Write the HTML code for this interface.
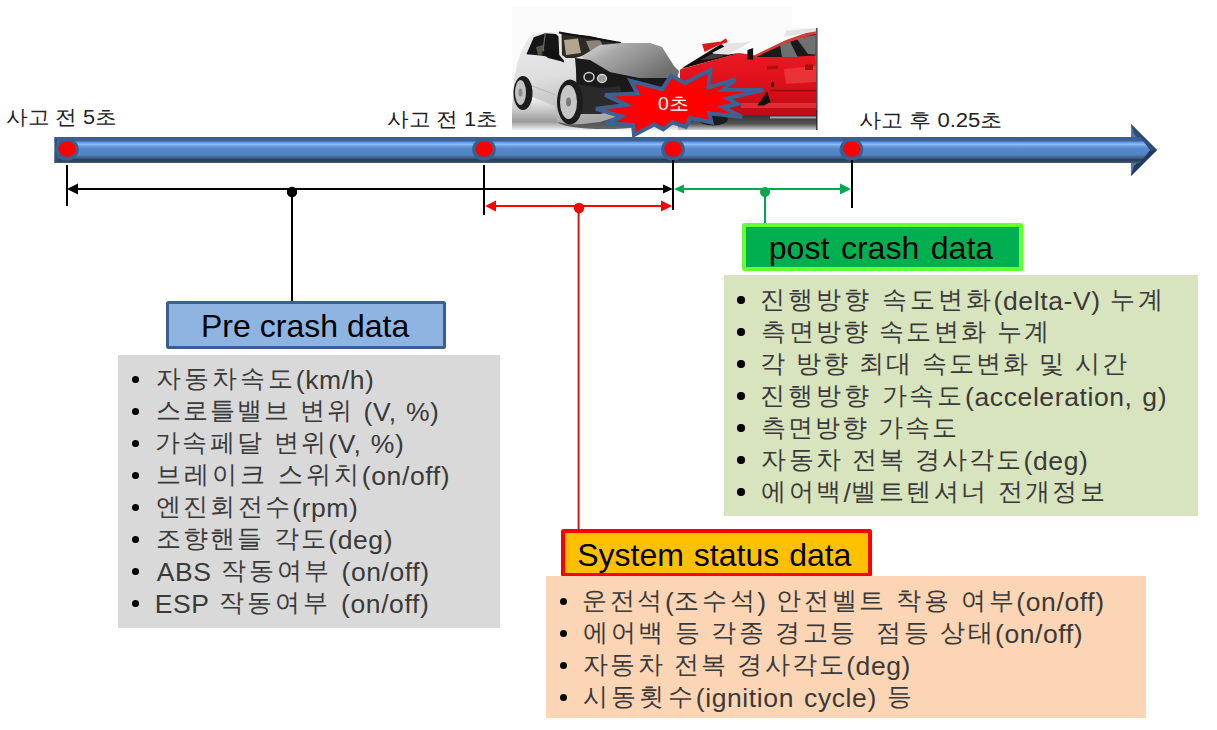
<!DOCTYPE html>
<html><head><meta charset="utf-8">
<style>
html,body{margin:0;padding:0;width:1217px;height:730px;overflow:hidden;background:#fff;font-family:"Liberation Sans",sans-serif;}
.t{position:absolute;white-space:nowrap;line-height:1;transform-origin:0 0;color:#000}
.bx{position:absolute;box-sizing:border-box}
.lab{font-size:18px}
.li{font-size:24px}
.t[id^="g"],.t[id^="n"],.t[id^="p"]{color:#3a3a3a}
.t[id^="l"]{color:#222}
.la{position:relative;top:2.4px;font-size:26.5px;line-height:20px;letter-spacing:0.6px}
.bul{position:absolute;width:7.5px;height:7.5px;border-radius:50%;background:#000}
</style></head><body>
<svg width="1217" height="730" style="position:absolute;left:0;top:0">
<defs>
<linearGradient id="bar" x1="0" y1="0" x2="0" y2="1">
<stop offset="0" stop-color="#3a5f94"/>
<stop offset="0.14" stop-color="#3b6197"/>
<stop offset="0.2" stop-color="#5f95d8"/>
<stop offset="0.28" stop-color="#8dbef5"/>
<stop offset="0.36" stop-color="#6a9de0"/>
<stop offset="0.45" stop-color="#5589cb"/>
<stop offset="0.68" stop-color="#5184c2"/>
<stop offset="0.8" stop-color="#3f5f8a"/>
<stop offset="0.87" stop-color="#2c3e5a"/>
<stop offset="0.93" stop-color="#30445f"/>
<stop offset="1" stop-color="#3f5f85"/>
</linearGradient>
<linearGradient id="gnd1" x1="0" y1="0" x2="0" y2="1">
<stop offset="0" stop-color="#f8f8f8"/>
<stop offset="0.45" stop-color="#c4c4c4"/>
<stop offset="0.75" stop-color="#9a9a9a"/>
<stop offset="1" stop-color="#efefef"/>
</linearGradient>
<linearGradient id="redg" x1="0" y1="0" x2="0" y2="1">
<stop offset="0" stop-color="#f0202a"/>
<stop offset="0.5" stop-color="#e3121c"/>
<stop offset="1" stop-color="#b80c14"/>
</linearGradient>
<linearGradient id="gnd2" x1="0" y1="0" x2="0" y2="1">
<stop offset="0" stop-color="#2a2a2a"/>
<stop offset="0.35" stop-color="#3a3a3a"/>
<stop offset="0.7" stop-color="#555"/>
<stop offset="1" stop-color="#cfcfcf"/>
</linearGradient>
<linearGradient id="silv" x1="0" y1="0" x2="0.3" y2="1">
<stop offset="0" stop-color="#ececec"/>
<stop offset="0.5" stop-color="#dedede"/>
<stop offset="0.8" stop-color="#c4c4c4"/>
<stop offset="1" stop-color="#a8a8a8"/>
</linearGradient>
<linearGradient id="hood" x1="0" y1="0" x2="1" y2="0.6">
<stop offset="0" stop-color="#e0e0e0"/>
<stop offset="0.35" stop-color="#a8a8a8"/>
<stop offset="0.7" stop-color="#8a8a8a"/>
<stop offset="1" stop-color="#6e6e6e"/>
</linearGradient>
</defs>
<!-- car photo -->
<rect x="512" y="7" width="280" height="123" fill="#fbfbfb"/>
<rect x="792" y="28" width="25" height="102" fill="#f6f6f6"/>
<rect x="512" y="96" width="170" height="34" fill="url(#gnd1)"/>
<ellipse cx="605" cy="121" rx="48" ry="8" fill="#3a3a3a" opacity="0.75"/>
<rect x="678" y="110" width="139" height="20" fill="url(#gnd2)"/>
<!-- silver car -->
<polygon points="513,100 514,80 517,64 521,52 529,37 537,33 547,32 559,32.4 590,36 621,43 650,43 662,47 674,66 679,71 678,83 674,91 650,95 625,114 600,122 583,124 570,124.5 557,122 555,106 532,97 530,108 522,110 514,106" fill="url(#silv)"/>
<polygon points="526.4,54.2 533.8,37.3 545.3,33.2 556,34 558.5,36.5 559.3,55.4 563.4,59.5 564.2,62.8 556,57.9 540.4,55.4" fill="#161616"/>
<polygon points="536,47 543,45 545,54 538,55" fill="#5a544c"/>
<line x1="545.3" y1="33.2" x2="542.9" y2="52" stroke="#6a6a6a" stroke-width="1.2"/>
<polygon points="541,52 552,49.5 560,56 564,62 548,58" fill="#111"/>
<polygon points="561.5,33 590,36 621,43 605,47 592,52 582,56 575,58 566,58 562,55" fill="#2e2a26"/>
<polygon points="564,40 578,38.5 581,53 566,55" fill="#b3a58e"/>
<polygon points="586,41 600,40 604,48 590,51" fill="#8c8378"/>
<line x1="559" y1="32.6" x2="621" y2="43" stroke="#111" stroke-width="2"/>
<polygon points="582,56 600,45 621,43 650,43 662,47 674,66 679,71 677,78 640,78 610,72 595,66 585,62" fill="url(#hood)"/>
<polygon points="575,58 590,60 610,72 640,78 677,78 679,83 674,91 650,95 625,106 600,112 577,114 576,70" fill="#1a1a1a"/>
<polygon points="577,84 600,88 620,86 624,108 600,114 580,114" fill="#2a2a2a"/>
<ellipse cx="589" cy="77" rx="5" ry="4.5" fill="#222" stroke="#cfcfcf" stroke-width="1.5"/>
<ellipse cx="602" cy="78.5" rx="4.5" ry="4" fill="#9a9a9a" stroke="#d8d8d8" stroke-width="1.3"/>
<line x1="527" y1="84" x2="556" y2="95" stroke="#b8b8b8" stroke-width="1"/>
<ellipse cx="523" cy="93" rx="9.5" ry="17" fill="#1c1c1c"/>
<ellipse cx="520.5" cy="92.5" rx="5.5" ry="12.5" fill="#c2c2c2"/>
<ellipse cx="520.5" cy="92.5" rx="2" ry="4" fill="#8a8a8a"/>
<ellipse cx="570" cy="102" rx="13" ry="22.5" fill="#1c1c1c"/>
<ellipse cx="568.5" cy="102" rx="8.5" ry="17" fill="#c6c6c6"/>
<ellipse cx="568.5" cy="102" rx="2.5" ry="4.5" fill="#7a7a7a"/>
<!-- red car -->
<polygon points="680,69.4 739,53 755,55.4 786,43 815.7,31.5 816.4,115.3 741,115.3 725,119 698,118 680,106" fill="url(#redg)"/>
<polygon points="754,55.4 786,40 815.7,29.5 815.7,33.5 786,44 756,58" fill="#d83a3a"/>
<polygon points="784.4,36.4 786,30.7 815.7,28.2 815.7,31.5" fill="#e2e2e2"/>
<polygon points="756.4,57 786,43 815.7,34 815.7,55.4 786,57" fill="#1a1a1a"/>
<polygon points="780,44.7 790,41.5 797.6,57 782,57" fill="#6e6e6e"/>
<polygon points="797,39 815.7,34.8 815.7,54.5 808,54" fill="#707070"/>
<polygon points="681,69 721,45.5 713.6,53.8 728.5,54.6 739.5,53" fill="#240606"/>
<polygon points="700,60 716,52 724,56 712,59" fill="#4a3a3a"/>
<polygon points="711.2,52.1 721,43.9 745.7,42.3 752.3,41 728.5,54.6 713.6,53.8" fill="#e4e4e4"/>
<polygon points="682.4,67.8 721,43.9 724.3,46.4 685.7,67" fill="#111"/>
<polygon points="702.1,43.9 721,41.4 726,38.2 727.6,42.3 719.4,44.7 704.6,52.1" fill="#d81a1a"/>
<polygon points="747.4,50 753.1,48 753.1,59.5 747.4,59.5" fill="#111"/>
<polygon points="784,69 816,66 816,82 786,84" fill="#f04a4a" opacity="0.6"/>
<polygon points="767,66 778,65.5 778,69 767,69.5" fill="#b01010"/>
<polygon points="805,64.5 813,64.5 813,70 805,70" fill="#a80e0e"/>
<rect x="770" y="89.8" width="46" height="1.5" fill="#9a0c0c"/>
<rect x="741" y="103" width="75" height="5" fill="#f44848" opacity="0.55"/>
<polygon points="757.3,105.4 767.1,91.4 770.4,102.1 763.8,105.4" fill="#111"/>
<polygon points="771,83 773.7,82 773.7,87 771,87" fill="#111"/>
<rect x="770" y="116.5" width="46" height="2" fill="#d0d0d0" opacity="0.7"/>
<ellipse cx="713" cy="119" rx="15" ry="6.5" fill="#1c1c1c"/>
<rect x="816.2" y="28" width="1.3" height="102" fill="#2a2a2a"/>
<!-- explosion -->
<path d="M684.6,83.1 L710.3,70.0 L708.3,87.4 L735.2,79.5 L722.6,89.7 L763.0,90.0 L727.3,98.3 L737.3,104.0 L722.6,107.0 L741.9,117.0 L709.2,113.2 L711.5,122.3 L690.2,118.0 L685.8,126.7 L672.3,122.3 L663.3,129.3 L654.2,124.5 L634.0,135.0 L633.1,124.9 L605.9,123.6 L621.7,116.3 L596.0,108.8 L626.4,104.9 L605.1,94.9 L637.5,93.5 L630.8,80.9 L662.1,89.2 L671.2,75.7Z" fill="#ff0000" stroke="#3d6193" stroke-width="4" stroke-linejoin="miter"/>
<!-- timeline bar -->
<rect x="54.5" y="137" width="1077.5" height="26" fill="url(#bar)"/>
<polygon points="54.5,137 57.5,140 57.5,160 54.5,163" fill="#33507a"/>
<polygon points="1131,124 1157,150 1131,176" fill="#4d77b0"/>
<polygon points="1131,124 1157,150 1150,150 1134,134" fill="#2e4b74"/>
<polygon points="1131,176 1157,150 1150,150 1134,166" fill="#233a5c"/>
<polygon points="1131,137 1140,137 1150,150 1140,163 1131,163" fill="url(#bar)"/>
<!-- dots -->
<g fill="#3a5e8e"><ellipse cx="67" cy="149.5" rx="11.8" ry="11.2"/><ellipse cx="484" cy="149.5" rx="11.8" ry="11.2"/><ellipse cx="673" cy="149.5" rx="11.8" ry="11.2"/><ellipse cx="851.5" cy="149.5" rx="11.8" ry="11.2"/></g>
<g fill="#ff0000"><ellipse cx="67" cy="149" rx="8.7" ry="7.7"/><ellipse cx="484" cy="149" rx="8.7" ry="7.7"/><ellipse cx="673" cy="149" rx="8.7" ry="7.7"/><ellipse cx="851.5" cy="149" rx="8.7" ry="7.7"/></g>
<!-- ticks -->
<g stroke="#000" stroke-width="2">
<line x1="67" y1="165" x2="67" y2="206"/>
<line x1="484" y1="165" x2="484" y2="215"/>
<line x1="673" y1="160" x2="673" y2="210"/>
<line x1="852" y1="160" x2="852" y2="208"/>
</g>
<!-- black dimension -->
<line x1="76" y1="189" x2="664" y2="189" stroke="#000" stroke-width="2"/>
<polygon points="67,189 78,183.5 78,194.5" fill="#000"/>
<polygon points="673,189 663,184.4 663,193.6" fill="#000"/>
<circle cx="292" cy="192" r="5.2" fill="#000"/>
<line x1="292" y1="191" x2="292" y2="302" stroke="#000" stroke-width="2"/>
<!-- red dimension -->
<line x1="494" y1="206" x2="662" y2="206" stroke="#ff0000" stroke-width="2"/>
<polygon points="485,206 496,200.5 496,211.5" fill="#ff0000"/>
<polygon points="672,206 661,200.5 661,211.5" fill="#ff0000"/>
<circle cx="579" cy="208" r="5.2" fill="#ff0000"/>
<line x1="578.6" y1="207" x2="578.6" y2="530" stroke="#d41616" stroke-width="2"/>
<!-- green dimension -->
<line x1="684" y1="189" x2="841" y2="189" stroke="#00a84f" stroke-width="2"/>
<polygon points="674,189 684,184.4 684,193.6" fill="#00a84f"/>
<polygon points="851,189 840,183.5 840,194.5" fill="#00a84f"/>
<circle cx="765" cy="192" r="5" fill="#00a84f"/>
<line x1="765" y1="192" x2="765" y2="224" stroke="#00a84f" stroke-width="2"/>
</svg>

<!-- boxes -->
<div class="bx" style="left:166px;top:301px;width:280px;height:47.8px;background:#8eb4e2;border:3.7px solid #3b5f8f;border-radius:2.5px"></div>
<div class="bx" style="left:118px;top:355px;width:382px;height:273px;background:#d9d9d9"></div>

<div class="bx" style="left:742px;top:223px;width:281px;height:47.8px;background:#00b050;border:4px solid #66ff33;border-radius:2.5px"></div>
<div class="bx" style="left:724px;top:275px;width:474px;height:241px;background:#d7e4bd"></div>

<div class="bx" style="left:561px;top:529px;width:311px;height:47.5px;background:#ffc000;border:4px solid #ff0000;border-radius:2.5px"></div>
<div class="bx" style="left:546px;top:576px;width:600px;height:142px;background:#fcd5b5"></div>

<!-- texts -->
<div class="bul" style="left:131.75px;top:375.75px"></div>
<div class="bul" style="left:131.75px;top:407.75px"></div>
<div class="bul" style="left:131.75px;top:439.75px"></div>
<div class="bul" style="left:131.75px;top:471.75px"></div>
<div class="bul" style="left:131.75px;top:503.75px"></div>
<div class="bul" style="left:131.75px;top:535.75px"></div>
<div class="bul" style="left:131.75px;top:567.75px"></div>
<div class="bul" style="left:131.75px;top:599.75px"></div>
<div class="bul" style="left:737.45px;top:296.45px"></div>
<div class="bul" style="left:737.45px;top:328.45px"></div>
<div class="bul" style="left:737.45px;top:360.45px"></div>
<div class="bul" style="left:737.45px;top:392.45px"></div>
<div class="bul" style="left:737.45px;top:424.45px"></div>
<div class="bul" style="left:737.45px;top:456.45px"></div>
<div class="bul" style="left:737.45px;top:488.45px"></div>
<div class="bul" style="left:559.85px;top:597.65px"></div>
<div class="bul" style="left:559.85px;top:629.65px"></div>
<div class="bul" style="left:559.85px;top:661.65px"></div>
<div class="bul" style="left:559.85px;top:693.65px"></div>
<div class="t" id="l1" style="left:5.83px;top:107.00px;font-size:20px;transform:scaleX(1.0828);">사고 전 5초</div>
<div class="t" id="l2" style="left:386.83px;top:109.00px;font-size:20px;transform:scaleX(1.0830);">사고 전 1초</div>
<div class="t" id="l3" style="left:858.79px;top:110.00px;font-size:20px;transform:scaleX(1.1032);">사고 후 0.25초</div>
<div class="t" id="zero" style="left:658.46px;top:95.20px;font-size:18.5px;transform:scaleX(1.0490);color:#fff">0초</div>
<div class="t" id="h1" style="left:201.00px;top:310.41px;font-size:32px;word-spacing:0.100px;">Pre crash data</div>
<div class="t" id="h2" style="left:768.80px;top:232.11px;font-size:32px;word-spacing:2.750px;">post crash data</div>
<div class="t" id="h3" style="left:577.20px;top:539.31px;font-size:32px;word-spacing:1.050px;">System status data</div>
<div class="t" id="g0" style="left:155.80px;top:365.75px;font-size:25px;letter-spacing:3.000px;">자동차속도<span class="la">(km/h)</span></div>
<div class="t" id="g1" style="left:155.80px;top:397.75px;font-size:25px;letter-spacing:2.099px;">스로틀밸브 변위 <span class="la">(V,</span> <span class="la">%)</span></div>
<div class="t" id="g2" style="left:154.80px;top:429.75px;font-size:25px;letter-spacing:2.363px;">가속페달 변위<span class="la">(V,</span> <span class="la">%)</span></div>
<div class="t" id="g3" style="left:155.80px;top:461.75px;font-size:25px;letter-spacing:3.010px;">브레이크 스위치<span class="la">(on/off)</span></div>
<div class="t" id="g4" style="left:155.80px;top:493.75px;font-size:25px;letter-spacing:2.278px;">엔진회전수<span class="la">(rpm)</span></div>
<div class="t" id="g5" style="left:155.80px;top:525.75px;font-size:25px;letter-spacing:2.212px;">조향핸들 각도<span class="la">(deg)</span></div>
<div class="t" id="g6" style="left:156.80px;top:557.75px;font-size:25px;letter-spacing:2.657px;"><span class="la">ABS</span> 작동여부 <span class="la">(on/off)</span></div>
<div class="t" id="g7" style="left:154.80px;top:589.75px;font-size:25px;letter-spacing:2.920px;"><span class="la">ESP</span> 작동여부 <span class="la">(on/off)</span></div>
<div class="t" id="n0" style="left:760.40px;top:286.90px;font-size:25px;letter-spacing:2.916px;">진행방향 속도변화<span class="la">(delta-V)</span> 누계</div>
<div class="t" id="n1" style="left:761.40px;top:318.90px;font-size:25px;letter-spacing:2.182px;">측면방향 속도변화 누계</div>
<div class="t" id="n2" style="left:760.40px;top:350.90px;font-size:25px;letter-spacing:1.969px;">각 방향 최대 속도변화 및 시간</div>
<div class="t" id="n3" style="left:760.40px;top:382.90px;font-size:25px;letter-spacing:2.842px;">진행방향 가속도<span class="la">(acceleration,</span> <span class="la">g)</span></div>
<div class="t" id="n4" style="left:761.40px;top:414.90px;font-size:25px;letter-spacing:2.000px;">측면방향 가속도</div>
<div class="t" id="n5" style="left:761.40px;top:446.90px;font-size:25px;letter-spacing:2.120px;">자동차 전복 경사각도<span class="la">(deg)</span></div>
<div class="t" id="n6" style="left:761.40px;top:478.90px;font-size:25px;letter-spacing:2.360px;">에어백<span class="la">/</span>벨트텐셔너 전개정보</div>
<div class="t" id="p0" style="left:582.20px;top:588.00px;font-size:25px;letter-spacing:2.611px;">운전석<span class="la">(</span>조수석<span class="la">)</span> 안전벨트 착용 여부<span class="la">(on/off)</span></div>
<div class="t" id="p1" style="left:583.40px;top:620.00px;font-size:25px;letter-spacing:2.363px;">에어백 등 각종 경고등  점등 상태<span class="la">(on/off)</span></div>
<div class="t" id="p2" style="left:583.20px;top:652.00px;font-size:25px;letter-spacing:2.187px;">자동차 전복 경사각도<span class="la">(deg)</span></div>
<div class="t" id="p3" style="left:583.20px;top:684.00px;font-size:25px;letter-spacing:3.143px;">시동횟수<span class="la">(ignition</span> <span class="la">cycle)</span> 등</div>
</body></html>
